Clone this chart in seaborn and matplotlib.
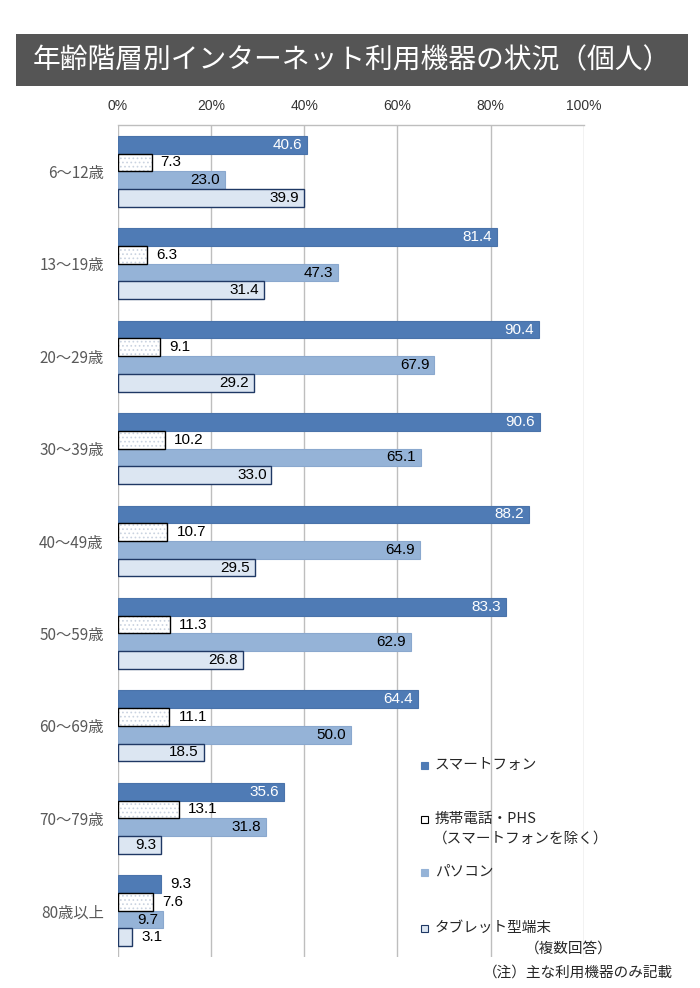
import numpy as np
import pandas as pd
import matplotlib
matplotlib.use('Agg')
import matplotlib.pyplot as plt
from matplotlib.patches import Rectangle
import seaborn as sns

ages = ['6～12歳', '13～19歳', '20～29歳', '30～39歳', '40～49歳',
        '50～59歳', '60～69歳', '70～79歳', '80歳以上']
devices = ['スマートフォン', '携帯電話・PHS', 'パソコン', 'タブレット型端末']
smartphone = [40.6, 81.4, 90.4, 90.6, 88.2, 83.3, 64.4, 35.6, 9.3]
mobile = [7.3, 6.3, 9.1, 10.2, 10.7, 11.3, 11.1, 13.1, 7.6]
pc = [23.0, 47.3, 67.9, 65.1, 64.9, 62.9, 50.0, 31.8, 9.7]
tablet = [39.9, 31.4, 29.2, 33.0, 29.5, 26.8, 18.5, 9.3, 3.1]
xticks = [0, 20, 40, 60, 80, 100]

colors = ['#4F7BB5', '#FFFFFF', '#95B3D7', '#DCE6F2']
edges = ['#4A73AA', '#000000', '#8AA8CE', '#1F3864']
label_colors = ['white', 'black', 'black', 'black']
# value above which label is drawn inside the bar end
inside_min = [15, 1000, 0, 5]

df = pd.DataFrame({
    'age': ages * 4,
    'device': np.repeat(devices, len(ages)),
    'value': smartphone + mobile + pc + tablet,
})

sns.set_style('white')
plt.rcParams['font.family'] = ['Noto Sans CJK JP', 'DejaVu Sans']
plt.rcParams['hatch.linewidth'] = 0.7
num_font = ['Liberation Sans', 'Noto Sans CJK JP']

fig = plt.figure(figsize=(7, 9.88), dpi=100)
ax = fig.add_axes([0.168, 0.0314, 0.666, 0.842])

sns.barplot(data=df, x='value', y='age', hue='device', orient='h',
            palette=colors, saturation=1, width=0.767, legend=False, ax=ax)

for i, cont in enumerate(ax.containers):
    for p in cont.patches:
        p.set_edgecolor(edges[i])
        p.set_linewidth(1.0 if i in (1, 3) else 0.8)
        if i == 1:
            p.set_zorder(3)
            p.set_facecolor('none')
            ax.add_patch(Rectangle((p.get_x(), p.get_y()), p.get_width(), p.get_height(),
                                   facecolor='white', hatch='....', edgecolor='#CAD3E0',
                                   linewidth=0, zorder=2))
        w = p.get_width()
        yc = p.get_y() + p.get_height() / 2
        if w > inside_min[i]:
            ax.annotate(f'{w:.1f}', (w, yc), xytext=(-3.5, 0), textcoords='offset points',
                        ha='right', va='center', fontsize=11, color=label_colors[i],
                        family=num_font, zorder=5)
        else:
            ax.annotate(f'{w:.1f}', (w, yc), xytext=(6.5, 0), textcoords='offset points',
                        ha='left', va='center', fontsize=11, color='black',
                        family=num_font, zorder=5)

ax.set_xlim(0, 100)
ax.set_xticks(xticks)
ax.set_xticklabels([f'{t}%' for t in xticks], family=num_font, fontsize=10)
ax.xaxis.tick_top()
ax.tick_params(axis='x', length=0, pad=9, colors='#333333')
ax.tick_params(axis='y', length=0, pad=10, labelsize=11, labelcolor='#595959')
ax.set_xlabel('')
ax.set_ylabel('')
ax.grid(axis='x', color='#BEBEBE', linewidth=1)
ax.set_axisbelow(True)
for s in ['left', 'right', 'bottom']:
    ax.spines[s].set_visible(False)
ax.spines['top'].set_color('#BEBEBE')
ax.spines['top'].set_linewidth(1)

# title box
W, H = 700, 988
fig.patches.append(Rectangle((16 / W, 1 - 86 / H), 672 / W, 52 / H, transform=fig.transFigure,
                             facecolor='#555555', edgecolor='none', zorder=0))
fig.text(33 / W, 1 - 60 / H, '年齢階層別インターネット利用機器の状況（個人）',
         color='white', fontsize=20, va='center', ha='left')

# legend
legend_y = [765, 819, 872, 928]
for i, name in enumerate(devices):
    y = legend_y[i]
    fig.patches.append(Rectangle((421.5 / W, 1 - (y + 3.5) / H), 7 / W, 7 / H,
                                 transform=fig.transFigure, facecolor=colors[i],
                                 edgecolor=edges[i] if i in (1, 3) else colors[i],
                                 linewidth=0.8))
    fig.text(435 / W, 1 - y / H, name, fontsize=10.5, va='center', ha='left')
fig.text(433 / W, 1 - 839 / H, '（スマートフォンを除く）', fontsize=10.5, va='center', ha='left')
fig.text(613 / W, 1 - 949 / H, '（複数回答）', fontsize=10.5, va='center', ha='right')
fig.text(673 / W, 1 - 973 / H, '（注）主な利用機器のみ記載', fontsize=10.5, va='center', ha='right')

fig.savefig('out.png', dpi=100)
